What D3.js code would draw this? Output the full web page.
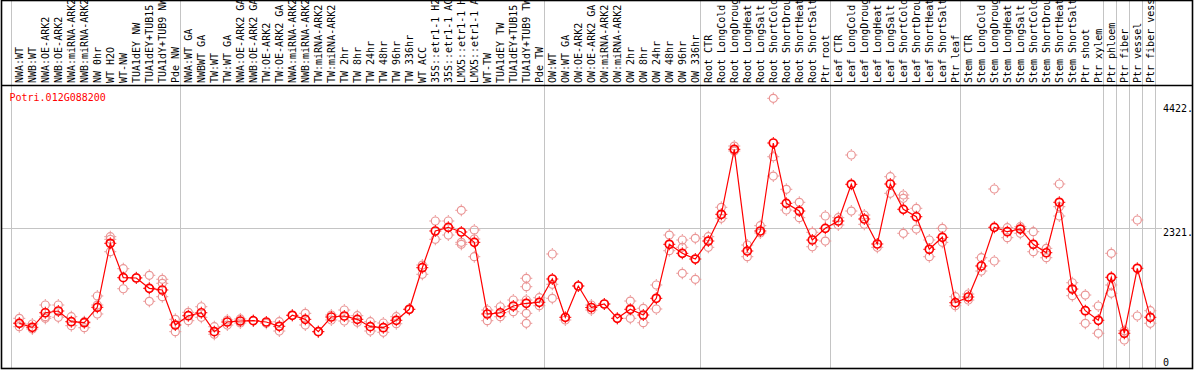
<!DOCTYPE html>
<html>
<head>
<meta charset="utf-8">
<script src="https://cdn.jsdelivr.net/npm/d3@7"></script>
<style>
  body { margin: 0; background: #fff; }
  svg { display: block; background: #fff; }
  .lbl { font-family: "DejaVu Sans Mono", monospace; font-size: 10px; }
</style>
</head>
<body>
<svg></svg>
<script>
var geneName = "Potri.012G088200";

var categories = [
  "NWA:WT", "NWB:WT", "NWA:OE-ARK2", "NWB:OE-ARK2", "NWA:miRNA-ARK2", "NWB:miRNA-ARK2",
  "NW 0hr", "WT H2O", "WT-NW", "TUA1dEY NW", "TUA1dEY+TUB15 NW", "TUA1dY+TUB9 NW", "Pde NW",
  "NWA:WT GA", "NWBWT GA", "TW:WT", "TW:WT GA", "NWA:OE-ARK2 GA", "NWB:OE-ARK2 GA",
  "TW:OE-ARK2", "TW:OE-ARK2 GA", "NWA:miRNA-ARK2 GA", "NWB:miRNA-ARK2 GA", "TW:miRNA-ARK2",
  "TW:miRNA-ARK2 GA", "TW 2hr", "TW 8hr", "TW 24hr", "TW 48hr", "TW 96hr", "TW 336hr",
  "WT ACC", "35S::etr1-1 H2O", "35S::etr1-1 ACC", "LMX5::etr1-1 H2O", "LMX5::etr1-1 ACC",
  "WT-TW", "TUA1dEY TW", "TUA1dEY+TUB15 TW", "TUA1dY+TUB9 TW", "Pde TW",
  "OW:WT", "OW:WT GA", "OW:OE-ARK2", "OW:OE-ARK2 GA", "OW:miRNA-ARK2", "OW:miRNA-ARK2 GA",
  "OW 2hr", "OW 8hr", "OW 24hr", "OW 48hr", "OW 96hr", "OW 336hr",
  "Root CTR", "Root LongCold", "Root LongDrought", "Root LongHeat", "Root LongSalt",
  "Root ShortCold", "Root ShortDrought", "Root ShortHeat", "Root ShortSalt", "Ptr root",
  "Leaf CTR", "Leaf LongCold", "Leaf LongDrought", "Leaf LongHeat", "Leaf LongSalt",
  "Leaf ShortCold", "Leaf ShortDrought", "Leaf ShortHeat", "Leaf ShortSalt", "Ptr leaf",
  "Stem CTR", "Stem LongCold", "Stem LongDrought", "Stem LongHeat", "Stem LongSalt",
  "Stem ShortCold", "Stem ShortDrought", "Stem ShortHeat", "Stem ShortSalt", "Ptr shoot",
  "Ptr xylem", "Ptr phloem", "Ptr fiber", "Ptr vessel", "Ptr fiber vessel"
];

var meanValues = [
  722, 655, 900, 929, 749, 732, 991, 2069, 1490, 1485, 1311, 1283, 693,
  850, 900, 581, 744, 761, 766, 744, 672, 857, 789, 581, 828, 845, 789, 665, 648, 773, 958,
  1658, 2276, 2338, 2259, 2085, 879, 900, 1013, 1059, 1076,
  1468, 823, 1350, 988, 1047, 806, 958, 862, 1143, 2052, 1900, 1804,
  2107, 2557, 3651, 1939, 2276, 3757, 2742, 2612, 2124, 2321,
  2444, 3062, 2478, 2057, 3067, 2641, 2516, 1968, 2170, 1069,
  1165, 1687, 2338, 2264, 2309, 2052, 1910, 2759, 1299, 934,
  773, 1496, 554, 1648, 823
];

var replicateValues = [
  [806, 665, 727], [710, 626], [1030, 833, 806], [1030, 823], [833, 682], [749, 648],
  [1182, 1030, 879], [2180, 2136, 1927], [1641, 1304], [1490], [1530, 1092, 1311],
  [1463, 1395, 1170], [789, 581],
  [907, 766], [1001, 823], [665, 537], [693, 778], [795, 727], [766], [722], [749, 592],
  [857], [890, 693], [581], [862, 778], [946, 761], [850, 739], [749, 592], [727, 571],
  [833, 715], [958],
  [1703, 1547], [2444, 2136], [2444, 2208], [2624, 2085, 2052], [2293, 2141, 1843],
  [946, 766], [1001, 833], [1114, 917], [1480, 1338, 1114, 890, 722], [1153, 1018],
  [1889, 1379, 1143], [778], [1350], [1030, 946], [1047], [806], [1097, 806], [975, 732],
  [1367, 963], [2208, 1944], [2124, 2001, 1564], [2153, 1463],
  [2180, 2001], [2675, 2489], [3706, 3622], [2040, 1843], [2365, 2242],
  [4509, 3526, 3201], [2978, 2629], [2759, 2500], [2254, 2011], [2528, 2107],
  [2500, 2377], [3555, 2612], [2545, 2388], [2001], [3190, 2910],
  [2882, 2826, 2237], [2658, 2309], [2124, 1843], [2321, 2085], [1170, 1018],
  [1215, 1114], [1826, 1602], [2983, 1771], [2331, 2163], [2348, 2237],
  [2264, 1927], [1984, 1826], [3067, 2685, 2528], [1405, 1187], [1198, 722],
  [1013, 554], [1900, 1367, 1227], [598, 441], [2461, 845], [934, 722]
];

// category index where a grey separator line is drawn (left edge of that band)
var groupBreaks = [0, 13, 41, 53, 63, 73, 84, 85, 86, 87, 88];

var yTicks = [0, 2321, 4422];
var yTickLabels = ["0", "2321.", "4422."];
var gridValues = [2321];

drawChart();

function drawChart() {

  var svgWidth = 1194, svgHeight = 370;
  var plotTop = 85, plotBottom = 368.5, plotLeft = 1.5, plotRight = 1192.5;
  var bandW = 13.0;

  var svg = d3.select("svg")
    .attr("width", svgWidth)
    .attr("height", svgHeight);

  var x = d3.scaleBand()
    .domain(d3.range(categories.length))
    .range([12.8, 12.8 + categories.length * bandW]);

  var y = d3.scaleLinear()
    .domain([0, 4422])
    .range([366.2, 103.5]);

  var cx = (i) => x(i) + x.bandwidth() / 2;

  //grey separators
  svg.append("g")
    .selectAll("line")
    .data(groupBreaks)
    .enter()
    .append("line")
    .attr("x1", (d) => Math.round(12.8 + d * bandW - 2.1) + 0.5)
    .attr("x2", (d) => Math.round(12.8 + d * bandW - 2.1) + 0.5)
    .attr("y1", 0)
    .attr("y2", plotBottom)
    .attr("stroke", "#c4c4c4")
    .attr("stroke-width", 1);

  //horizontal grid
  svg.append("g")
    .selectAll("line")
    .data(gridValues)
    .enter()
    .append("line")
    .attr("x1", plotLeft)
    .attr("x2", 1162)
    .attr("y1", (d) => Math.round(y(d)) + 0.5)
    .attr("y2", (d) => Math.round(y(d)) + 0.5)
    .attr("stroke", "#c4c4c4")
    .attr("stroke-width", 1);

  //category labels
  var xAxis = svg.append("g")
    .attr("class", "lbl")
    .attr("transform", "translate(0,83)")
    .call(d3.axisTop(x).tickSize(0).tickFormat((i) => categories[i]));
  xAxis.select(".domain").remove();
  xAxis.selectAll("text")
    .attr("x", 0)
    .attr("y", 0)
    .attr("dy", null)
    .attr("fill", "#000")
    .style("text-anchor", "start")
    .attr("transform", "translate(4,0) rotate(-90)");
  xAxis.attr("font-family", null).attr("font-size", null);

  //y labels
  var yAxis = svg.append("g")
    .attr("class", "lbl")
    .attr("transform", "translate(1163,0)")
    .call(d3.axisRight(y).tickValues(yTicks).tickSize(0)
      .tickFormat((d, i) => yTickLabels[i]));
  yAxis.select(".domain").remove();
  yAxis.attr("font-family", null).attr("font-size", null);
  yAxis.selectAll("text")
    .attr("x", 0)
    .attr("dy", null)
    .attr("fill", "#000")
    .attr("y", (d) => Math.min(7.5, 365 - y(d)));

  //frame
  svg.append("rect")
    .attr("x", plotLeft)
    .attr("y", 0.5)
    .attr("width", plotRight - plotLeft)
    .attr("height", plotBottom - 0.5)
    .attr("fill", "none")
    .attr("stroke", "#000")
    .attr("stroke-width", 1.6);

  svg.append("line")
    .attr("x1", plotLeft)
    .attr("x2", plotRight)
    .attr("y1", plotTop + 0.5)
    .attr("y2", plotTop + 0.5)
    .attr("stroke", "#000")
    .attr("stroke-width", 1.6);

  //gene name
  svg.append("text")
    .attr("class", "lbl")
    .attr("x", 9.5)
    .attr("y", 101)
    .attr("fill", "#ff0000")
    .text(geneName);

  var tickPath = function (px, py) {
    return "M" + (px - 6) + "," + py + "h1.6" +
      "M" + (px + 4.4) + "," + py + "h1.6" +
      "M" + px + "," + (py - 6) + "v1.6" +
      "M" + px + "," + (py + 4.4) + "v1.6";
  };

  //replicate points
  var reps = [];
  replicateValues.forEach(function (arr, i) {
    arr.forEach(function (v) { reps.push({ i: i, v: v }); });
  });

  var repG = svg.append("g");
  repG.selectAll("circle")
    .data(reps)
    .enter()
    .append("circle")
    .attr("cx", (d) => cx(d.i))
    .attr("cy", (d) => y(d.v))
    .attr("r", 4)
    .attr("fill", "none")
    .attr("stroke", "#ea9595")
    .attr("stroke-width", 1.2);
  repG.selectAll("path")
    .data(reps)
    .enter()
    .append("path")
    .attr("d", (d) => tickPath(cx(d.i), y(d.v)))
    .attr("stroke", "#ea9595")
    .attr("stroke-width", 1);

  //mean line
  var line = d3.line()
    .x((d, i) => cx(i))
    .y((d) => y(d));

  svg.append("path")
    .datum(meanValues)
    .attr("d", line)
    .attr("fill", "none")
    .attr("stroke", "#ff0000")
    .attr("stroke-width", 1.2);

  //mean points
  var meanG = svg.append("g");
  meanG.selectAll("circle")
    .data(meanValues)
    .enter()
    .append("circle")
    .attr("cx", (d, i) => cx(i))
    .attr("cy", (d) => y(d))
    .attr("r", 4)
    .attr("fill", "none")
    .attr("stroke", "#ff0000")
    .attr("stroke-width", 1.7);
  meanG.selectAll("path")
    .data(meanValues)
    .enter()
    .append("path")
    .attr("d", (d, i) => tickPath(cx(i), y(d)))
    .attr("stroke", "#ff0000")
    .attr("stroke-width", 1);
}
</script>
</body>
</html>
